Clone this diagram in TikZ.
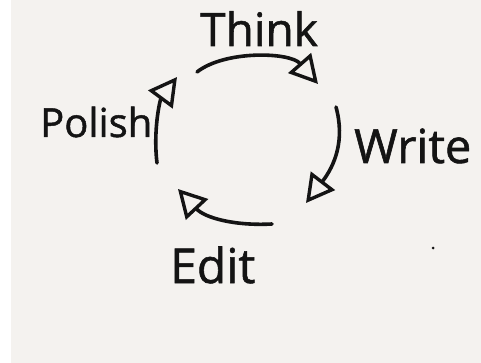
\documentclass[tikz,border=0pt]{standalone}
\usepackage{fontspec}
\setmainfont{Open Sans}[FakeBold=1.2]
\usepackage{tikz}
\usetikzlibrary{arrows.meta}

\definecolor{paper}{HTML}{F4F2EF}
\definecolor{ink}{HTML}{141414}

\begin{document}
\begin{tikzpicture}[x=1pt,y=-1pt,
    stage/.style={ink,inner sep=0pt,anchor=base west},
    cyclearrow/.style={ink,line width=3.6pt,line cap=round,
      -{Triangle[open,length=28pt,width=30pt,line width=3.4pt]}}]
    % paper
    \fill[white] (0,0) rectangle (481,363);
    \fill[paper] (11,0) rectangle (481,363);
    \useasboundingbox (0,0) rectangle (481,363);

    % the four stages
    \node[stage,font=\fontsize{46}{50}\selectfont] (think) at (200,46) {Think};
    \node[stage,font=\fontsize{47}{51}\selectfont] (write) at (354,163) {Write};
    \node[stage,font=\fontsize{48}{52}\selectfont] (edit) at (170,283) {Edit};
    \node[stage,font=\fontsize{40}{44}\selectfont] (polish) at (40,137) {Polish};

    % arrow ends
    \coordinate (thinkfrom) at (197,72);
    \coordinate (thinkto) at (318,84);
    \coordinate (writefrom) at (336,107);
    \coordinate (writeto) at (306,203);
    \coordinate (editfrom) at (272,224);
    \coordinate (editto) at (178,189);
    \coordinate (polishfrom) at (157,163);
    \coordinate (polishto) at (177,77);

    \draw[cyclearrow] (thinkfrom) .. controls (225,50) and (290,52) .. (thinkto);
    \draw[cyclearrow] (writefrom) .. controls (345,140) and (335,165) .. (writeto);
    \draw[cyclearrow] (editfrom) .. controls (235,226) and (205,218) .. (editto);
    \draw[cyclearrow] (polishfrom) .. controls (153,130) and (160,100) .. (polishto);

    % speck on the page
    \fill[ink] (433,248) circle (1.5);
  \end{tikzpicture}
\end{document}
